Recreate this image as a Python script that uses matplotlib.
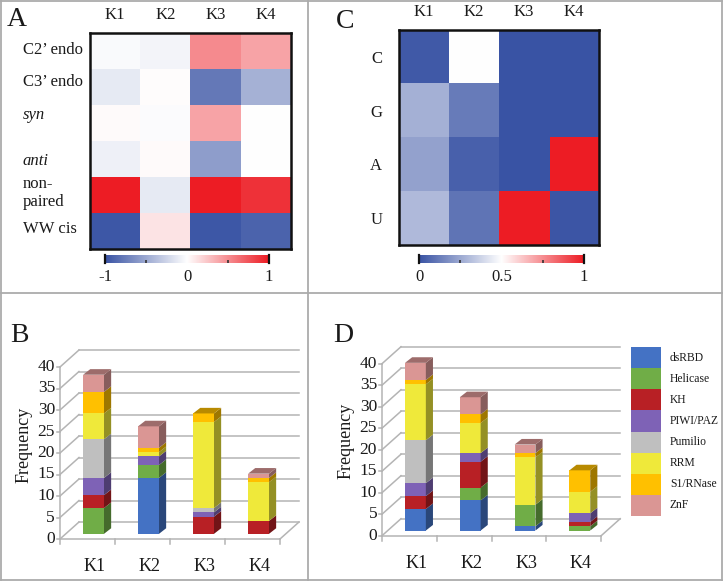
import numpy as np
import matplotlib
matplotlib.use("Agg")
import matplotlib.pyplot as plt
from matplotlib.colors import LinearSegmentedColormap, to_rgb
from matplotlib.patches import Rectangle, Polygon
from matplotlib.lines import Line2D

plt.rcParams['font.family'] = ['Liberation Serif', 'DejaVu Serif']

# ---------------- data ----------------
clusters = ["K1", "K2", "K3", "K4"]

a_rows = ["C2\u2019 endo", "C3\u2019 endo", "syn", "anti", "non-\npaired", "WW cis"]
a_italic = [False, False, True, True, False, False]
a_values = np.array([
    [-0.03, -0.06, 0.51, 0.40],
    [-0.12, 0.01, -0.78, -0.45],
    [0.02, -0.02, 0.40, 0.00],
    [-0.08, 0.02, -0.57, 0.00],
    [1.00, -0.12, 1.00, 0.90],
    [-0.97, 0.12, -0.97, -0.90],
])

c_rows = ["C", "G", "A", "U"]
c_values = np.array([
    [0.02, 0.50, 0.00, 0.00],
    [0.27, 0.12, 0.00, 0.00],
    [0.23, 0.04, 0.00, 1.00],
    [0.30, 0.10, 1.00, 0.01],
])

domains = ["dsRBD", "Helicase", "KH", "PIWI/PAZ", "Pumilio", "RRM", "S1/RNase", "ZnF"]
domain_colors = ["#4472C4", "#70AD47", "#B82025", "#7E62B6", "#BFBFBF", "#EFE93A", "#FFC000", "#DA9694"]

b_dsRBD = [0, 13, 0, 0]
b_helicase = [6, 3, 0, 0]
b_kh = [3, 0, 4, 3]
b_piwi = [4, 2, 1, 0]
b_pumilio = [9, 0, 1, 0]
b_rrm = [6, 1, 20, 9]
b_s1 = [5, 1, 2, 1]
b_znf = [4, 5, 0, 1]

d_dsRBD = [5, 7, 1, 0]
d_helicase = [0, 3, 5, 1]
d_kh = [3, 6, 0, 1]
d_piwi = [3, 2, 0, 2]
d_pumilio = [10, 0, 0, 0]
d_rrm = [13, 7, 11, 5]
d_s1 = [1, 2, 1, 5]
d_znf = [4, 4, 2, 0]

b_series = [b_dsRBD, b_helicase, b_kh, b_piwi, b_pumilio, b_rrm, b_s1, b_znf]
d_series = [d_dsRBD, d_helicase, d_kh, d_piwi, d_pumilio, d_rrm, d_s1, d_znf]
freq_ticks = [0, 5, 10, 15, 20, 25, 30, 35, 40]

# ---------------- figure ----------------
W, H = 724, 582
fig = plt.figure(figsize=(W / 100, H / 100), dpi=100)


def px_axes(x0, y0, x1, y1):
    return fig.add_axes([x0 / W, 1 - y1 / H, (x1 - x0) / W, (y1 - y0) / H])


cmap = LinearSegmentedColormap.from_list("bwr_fig", ["#3953A4", "#FFFFFF", "#ED1C24"])
TXT = "#1a1a1a"

# panel borders
border_c = "#ababab"
for (x0, y0, x1, y1) in [(1, 1, 722, 1), (1, 580, 722, 580), (1, 1, 1, 580), (722, 1, 722, 580),
                         (308, 1, 308, 580), (1, 293, 722, 293)]:
    fig.add_artist(Line2D([x0 / W, x1 / W], [1 - y0 / H, 1 - y1 / H], color=border_c, lw=1.3))

for lab, x, y in [("A", 17, 20), ("C", 345, 21), ("B", 19, 336), ("D", 343, 336)]:
    fig.text(x / W, 1 - y / H, lab, fontsize=20, ha="center", va="center", color=TXT)


def heatmap(box, values, vmin, vmax, rows, row_pad, row_ha, row_offsets, italic):
    ax = px_axes(*box)
    ax.imshow(values, cmap=cmap, vmin=vmin, vmax=vmax, aspect="auto", interpolation="nearest")
    for s in ax.spines.values():
        s.set_linewidth(1.8)
        s.set_color("#111111")
    ax.set_xticks(np.arange(len(clusters)))
    ax.set_xticklabels(clusters, fontsize=12, color=TXT)
    ax.xaxis.tick_top()
    ax.tick_params(axis="x", length=0, pad=7)
    ax.set_yticks(np.arange(len(rows)) + np.array(row_offsets))
    ax.set_yticklabels(rows, fontsize=12, color=TXT)
    ax.tick_params(axis="y", length=0, pad=row_pad)
    for t, it in zip(ax.get_yticklabels(), italic):
        t.set_ha(row_ha)
        t.set_multialignment("left")
        if it:
            t.set_style("italic")
    return ax


heatmap((90, 33, 291, 249), a_values, -1, 1, a_rows, 48.5, "left",
        [-0.08, -0.2, -0.28, 0.0, -0.14, -0.1], a_italic)
heatmap((399, 30, 599, 245), c_values, 0, 1, c_rows, 12, "right",
        [0, 0, 0, 0], [False] * 4)


def colorbar(box, vmin, vmax, labels, minors):
    ax = px_axes(*box)
    grad = np.linspace(vmin, vmax, 256)[None, :]
    ax.imshow(grad, cmap=cmap, vmin=vmin, vmax=vmax, aspect="auto",
              extent=[vmin, vmax, 0, 1])
    ax.set_xlim(vmin, vmax)
    ax.set_yticks([])
    ax.spines["top"].set_visible(False)
    ax.spines["bottom"].set_visible(False)
    for s in ("left", "right"):
        ax.spines[s].set_linewidth(1.6)
        ax.spines[s].set_color("#111111")
    ax.set_xticks(labels)
    ax.set_xticklabels([f"{v:g}" for v in labels], fontsize=12, color=TXT)
    ax.set_xticks(minors, minor=True)
    ax.tick_params(axis="x", which="major", length=0, pad=4)
    ax.tick_params(axis="x", which="minor", length=2, direction="in", width=1.2, color="#333333")


colorbar((105, 255, 269, 263), -1, 1, [-1, 0, 1], [-0.5, 0, 0.5])
colorbar((419, 255, 584, 263), 0, 1, [0, 0.5, 1], [0.25, 0.5, 0.75])


def shade(c, f):
    r, g, b = to_rgb(c)
    return (r * f, g * f, b * f)


def bar3d_panel(front_x0, front_y0, slot_px, series, label_dx):
    ppu_y = 4.3
    x_lo, x_hi, y_lo, y_hi = -0.3, 4.45, -8, 47
    ax = px_axes(front_x0 + x_lo * slot_px, front_y0 - y_hi * ppu_y,
                 front_x0 + x_hi * slot_px, front_y0 - y_lo * ppu_y)
    ax.set_xlim(x_lo, x_hi)
    ax.set_ylim(y_lo, y_hi)
    ax.axis("off")
    DX, DY = 19.0 / slot_px, 17.0 / ppu_y
    gc = "#b4b4b4"
    n = len(clusters)
    # walls / grid
    for v in freq_ticks:
        ax.plot([0, DX], [v, v + DY], color=gc, lw=1.1, zorder=1)
        ax.plot([DX, n + DX], [v + DY, v + DY], color=gc, lw=1.1, zorder=1)
        ax.plot([-0.05, 0], [v, v], color=gc, lw=1.1, zorder=1)
        ax.text(-0.09, v, str(v), ha="right", va="center", fontsize=12.5, color=TXT)
    ax.plot([0, n], [0, 0], color=gc, lw=1.1, zorder=1)
    ax.plot([n, n + DX], [0, DY], color=gc, lw=1.1, zorder=1)
    ax.plot([0, 0], [0, freq_ticks[-1]], color=gc, lw=1.1, zorder=1)
    for k in range(n + 1):
        ax.plot([k, k], [0, -1.2], color=gc, lw=1.1, zorder=1)
    for k, lab in enumerate(clusters):
        ax.text(k + 0.5 + label_dx, -6.5, lab, ha="center", va="center", fontsize=13, color=TXT)
    ax.text(-0.66, 22, "Frequency", rotation=90, ha="center", va="center", fontsize=13, color=TXT)
    # bars
    bw, bdx, bdy, base = 0.38, 0.13, 1.3, 1.2
    z = 2
    for k in range(n):
        x0, x1 = k + 0.42, k + 0.42 + bw
        bottom = base
        top_color = None
        for vals, col in zip(series, domain_colors):
            h = vals[k]
            if h <= 0:
                continue
            y0, y1 = bottom, bottom + h
            ax.add_patch(Rectangle((x0, y0), bw, h, facecolor=col, edgecolor="none", zorder=z))
            ax.add_patch(Polygon([(x1, y0), (x1 + bdx, y0 + bdy), (x1 + bdx, y1 + bdy), (x1, y1)],
                                 closed=True, facecolor=shade(col, 0.62), edgecolor="none", zorder=z))
            z += 1
            bottom = y1
            top_color = col
        if top_color is not None:
            ax.add_patch(Polygon([(x0, bottom), (x1, bottom), (x1 + bdx, bottom + bdy),
                                  (x0 + bdx, bottom + bdy)], closed=True,
                                 facecolor=shade(top_color, 0.72), edgecolor="none", zorder=z))
            z += 1
    return ax


bar3d_panel(60, 539, 55, b_series, 0.12)
bar3d_panel(382, 535.7, 54.8, d_series, 0.13)

# legend for D
lax = px_axes(631, 347, 720, 516)
lax.set_xlim(0, 89)
lax.set_ylim(len(domains), 0)
lax.axis("off")
for i, (name, col) in enumerate(zip(domains, domain_colors)):
    lax.add_patch(Rectangle((0, i), 30, 1, facecolor=col, edgecolor="none"))
    lax.text(39, i + 0.5, name, ha="left", va="center", fontsize=8.4, color=TXT)

fig.savefig("out.png", dpi=100)
